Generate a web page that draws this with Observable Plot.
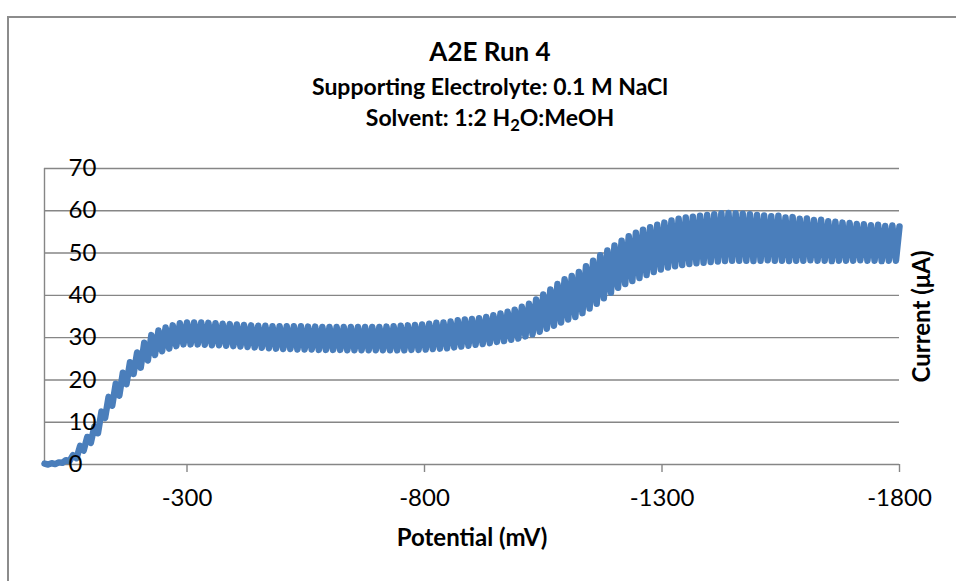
<!DOCTYPE html>
<html>
<head>
<meta charset="utf-8">
<script src="https://cdn.jsdelivr.net/npm/d3@7"></script>
<script src="https://cdn.jsdelivr.net/npm/@observablehq/plot@0.6"></script>
<style>
  body { margin: 0; background: #fff; }
  #wrap { position: relative; width: 956px; height: 581px; overflow: hidden; font-family: Lato, "Open Sans", sans-serif; background: #fff; }
  #frame { position: absolute; left: 7px; top: 16px; width: 1000px; height: 1000px; border-left: 2px solid #8c8c8c; border-top: 2px solid #8c8c8c; }
  .t { position: absolute; left: 0; width: 980px; text-align: center; font-weight: bold; color: #000; white-space: nowrap; line-height: 1; }
  .t sub { font-size: 0.72em; vertical-align: -0.28em; line-height: 0; }
  #chart { position: absolute; left: 0; top: 0; }
</style>
</head>
<body>
<div id="wrap">
  <div id="frame"></div>
  <div id="chart"></div>
  <div class="t" id="title" style="top:38px;font-size:26px;">A2E Run 4</div>
  <div class="t" id="sub1" style="top:74.5px;font-size:23px;">Supporting Electrolyte: 0.1 M NaCl</div>
  <div class="t" id="sub2" style="top:106px;font-size:23px;">Solvent: 1:2 H<sub>2</sub>O:MeOH</div>
</div>
<script>
// Potential sweep (mV) at each forward pulse
const potential = [
  0, -15, -30, -45, -60, -75, -90, -105, -120, -135,
  -150, -165, -180, -195, -210, -225, -240, -255, -270, -285,
  -300, -315, -330, -345, -360, -375, -390, -405, -420, -435,
  -450, -465, -480, -495, -510, -525, -540, -555, -570, -585,
  -600, -615, -630, -645, -660, -675, -690, -705, -720, -735,
  -750, -765, -780, -795, -810, -825, -840, -855, -870, -885,
  -900, -915, -930, -945, -960, -975, -990, -1005, -1020, -1035,
  -1050, -1065, -1080, -1095, -1110, -1125, -1140, -1155, -1170, -1185,
  -1200, -1215, -1230, -1245, -1260, -1275, -1290, -1305, -1320, -1335,
  -1350, -1365, -1380, -1395, -1410, -1425, -1440, -1455, -1470, -1485,
  -1500, -1515, -1530, -1545, -1560, -1575, -1590, -1605, -1620, -1635,
  -1650, -1665, -1680, -1695, -1710, -1725, -1740, -1755, -1770, -1785,
  -1800
];
// Forward-pulse current (µA), upper edge of the band
const forwardCurrent = [
  0.2, 0.3, 0.5, 1.0, 2.2, 4.4, 6.5, 9.0, 12.5, 16.0,
  19.1, 21.7, 24.2, 26.5, 28.8, 30.6, 31.7, 32.4, 32.9, 33.4,
  33.6, 33.6, 33.6, 33.5, 33.4, 33.3, 33.2, 33.1, 33.0, 32.9,
  32.8, 32.8, 32.7, 32.7, 32.7, 32.7, 32.7, 32.6, 32.6, 32.5,
  32.5, 32.5, 32.5, 32.5, 32.5, 32.5, 32.5, 32.5, 32.6, 32.7,
  32.8, 32.9, 33.0, 33.1, 33.3, 33.5, 33.6, 33.8, 34.1, 34.3,
  34.4, 34.6, 34.9, 35.3, 35.7, 36.1, 36.6, 37.3, 38.0, 39.0,
  40.2, 41.4, 42.7, 43.8, 44.6, 45.5, 46.9, 48.2, 49.5, 50.6,
  51.8, 52.9, 54.0, 54.8, 55.5, 56.1, 56.7, 57.2, 57.7, 58.1,
  58.4, 58.6, 58.8, 59.0, 59.2, 59.4, 59.5, 59.4, 59.3, 59.2,
  59.0, 58.9, 58.7, 58.8, 58.4, 58.5, 58.1, 58.2, 57.8, 57.9,
  57.5, 57.4, 57.2, 57.1, 56.9, 56.8, 56.6, 56.7, 56.4, 56.5,
  56.3
];
// Reverse-pulse current (µA), lower edge of the band
const reverseCurrent = [
  0.0, 0.1, 0.4, 0.8, 1.5, 3.3, 5.1, 7.4, 11.0, 13.9,
  16.3, 19.0, 21.4, 22.9, 24.6, 25.9, 26.8, 27.4, 28.0, 28.4,
  28.4, 28.4, 28.3, 28.2, 28.2, 28.1, 28.0, 27.9, 27.8, 27.7,
  27.6, 27.5, 27.4, 27.3, 27.3, 27.2, 27.2, 27.2, 27.1, 27.1,
  27.1, 27.1, 27.0, 27.0, 27.0, 27.0, 27.0, 27.0, 27.0, 27.0,
  27.0, 27.1, 27.1, 27.2, 27.3, 27.4, 27.5, 27.7, 27.9, 28.1,
  28.3, 28.5, 28.7, 29.0, 29.2, 29.5, 29.8, 30.3, 30.8, 31.4,
  32.1, 32.8, 33.6, 34.3, 34.9, 35.8, 36.9, 38.0, 39.3, 40.6,
  41.8, 42.7, 43.4, 44.1, 44.8, 45.5, 46.1, 46.6, 46.9, 47.2,
  47.4, 47.6, 47.7, 47.9, 48.0, 48.1, 48.2, 48.2, 48.2, 48.1,
  48.2, 48.3, 48.2, 48.2, 48.1, 48.2, 48.2, 48.3, 48.2, 48.2,
  48.1, 48.2, 48.2, 48.2, 48.3, 48.2, 48.2, 48.1, 48.2, 48.2
];
const xTicks = [-300, -800, -1300, -1800];
const yTicks = [0, 10, 20, 30, 40, 50, 60, 70];
const xTitle = "Potential (mV)";
const yTitle = "Current (μA)";

// Alternate forward / reverse readings to reproduce the zig-zag trace
const points = [];
for (let i = 0; i < potential.length; i++) {
  points.push({E: potential[i], I: forwardCurrent[i]});
  if (i < reverseCurrent.length) {
    points.push({E: (potential[i] + potential[i + 1]) / 2, I: reverseCurrent[i]});
  }
}

const gray = "#868686";
const chart = Plot.plot({
  width: 956,
  height: 581,
  marginLeft: 44,
  marginRight: 57,
  marginTop: 168,
  marginBottom: 117,
  style: {fontFamily: "Lato, 'Open Sans', sans-serif", fontSize: "24px", background: "transparent", color: "#000"},
  x: {domain: [0, -1800]},
  y: {domain: [0, 70]},
  marks: [
    Plot.gridY(yTicks, {stroke: gray, strokeOpacity: 1, strokeWidth: 1.4}),
    Plot.ruleX([0], {y1: 0, y2: 70, stroke: gray, strokeWidth: 1.4}),
    Plot.axisX(xTicks, {tickSize: 8, tickPadding: 16, stroke: gray, strokeWidth: 1.4, fill: "#000", tickFormat: d => String(d), fontSize: 24, label: null}),
    Plot.line(points, {x: "E", y: "I", stroke: "#4a7ebb", strokeWidth: 6.5, strokeLinejoin: "round", strokeLinecap: "round"}),
    Plot.axisY(yTicks, {anchor: "left", tickSize: 0, tickPadding: -24, textAnchor: "start", fill: "#000", tickFormat: d => String(d), fontSize: 24, label: null}),
    Plot.text([xTitle], {frameAnchor: "bottom", dy: 74, textAnchor: "middle", lineAnchor: "middle", fontWeight: "bold", fontSize: 24, fill: "#000"}),
    Plot.text([yTitle], {frameAnchor: "right", dx: 23, rotate: -90, textAnchor: "middle", lineAnchor: "middle", fontWeight: "bold", fontSize: 24, fill: "#000"})
  ]
});
document.getElementById("chart").appendChild(chart);
</script>
</body>
</html>
